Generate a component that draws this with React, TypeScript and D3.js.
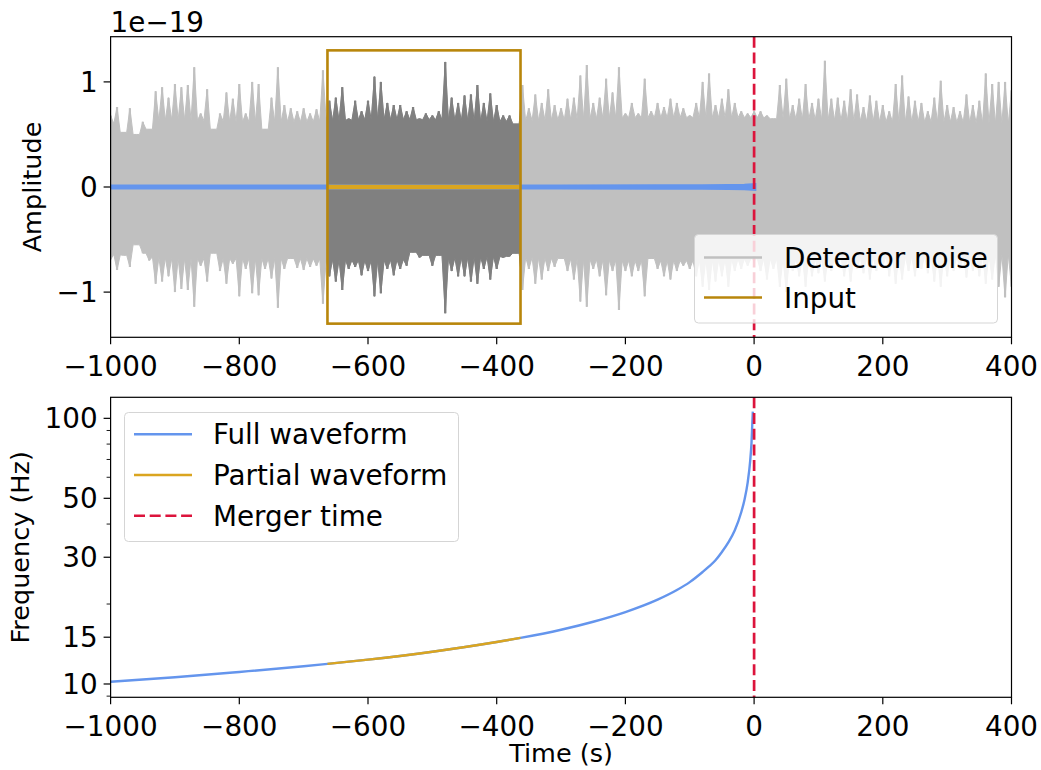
import * as d3 from 'd3';

// noise peaks, one per 10 s from -1000 to 400 (units of 1e-19)
const noiseHi = [
  0.68, 0.76, 0.52, 0.75, 0.50, 0.62, 0.55, 0.91, 0.95, 0.85, 0.98, 0.95, 0.97, 1.14, 0.70, 0.93, 0.55, 0.70, 0.90, 0.84, 0.98, 0.70, 1.00, 0.98, 0.55, 0.85, 1.14, 0.78, 0.75,
  0.72, 0.75, 0.70, 0.74, 1.11, 0.82, 0.85, 0.95, 0.65, 0.82, 0.72, 0.82, 1.05, 1.00, 0.80, 0.78, 0.78, 0.72, 0.76, 0.65, 0.70, 0.68, 0.72, 1.19, 0.85, 0.80, 0.87, 0.88,
  0.97, 0.80, 0.89, 0.78, 0.68, 0.68, 0.60, 0.97, 0.75, 0.88, 0.80, 0.93, 0.78, 0.75, 0.84, 0.85, 1.06, 1.16, 0.80, 0.85, 1.03, 0.90, 1.14, 0.70, 0.80, 0.70, 1.03,
  0.72, 0.80, 0.76, 0.84, 0.80, 0.75, 0.68, 0.80, 1.00, 1.08, 0.78, 0.84, 0.93, 0.80, 0.72, 0.70, 0.72, 0.72, 0.68, 0.65, 0.97, 1.03, 0.78, 0.84, 0.98, 0.80, 0.84, 1.20,
  0.84, 0.85, 0.82, 0.93, 0.88, 0.76, 0.87, 0.82, 0.78, 0.72, 0.98, 1.06, 0.86, 0.82, 0.80, 0.72, 0.85, 1.01, 0.78, 0.76, 0.72, 0.88, 0.78, 0.82, 1.08, 0.98, 1.00, 1.00, 0.92,
];
const noiseLo = [
  -0.69, -0.79, -0.65, -0.76, -0.55, -0.63, -0.70, -0.92, -0.90, -0.85, -1.00, -0.97, -0.98, -1.14, -0.75, -0.90, -0.63, -0.80, -0.92, -0.73, -1.04, -0.78, -1.01, -1.03, -0.78, -0.87, -1.15, -0.78, -0.68,
  -0.77, -0.79, -0.76, -0.75, -1.11, -0.85, -0.90, -0.98, -0.78, -0.76, -0.84, -0.80, -1.04, -1.01, -0.78, -0.84, -0.78, -0.75, -0.62, -0.67, -0.65, -0.75, -0.65, -1.20, -0.80, -0.85, -0.85, -0.90,
  -0.92, -0.78, -0.88, -0.78, -0.67, -0.66, -0.63, -0.98, -0.78, -0.92, -0.88, -0.80, -0.76, -0.68, -0.80, -0.88, -1.09, -1.14, -0.78, -0.85, -1.03, -0.80, -1.17, -0.80, -0.85, -0.80, -1.04,
  -0.68, -0.78, -0.85, -0.88, -0.80, -0.75, -0.78, -0.85, -0.95, -0.98, -0.90, -0.85, -0.95, -0.80, -0.78, -0.75, -0.70, -0.80, -0.88, -0.78, -0.95, -1.00, -0.80, -0.85, -0.95, -0.85, -0.82, -0.90,
  -0.80, -0.75, -0.85, -0.90, -0.78, -0.82, -0.88, -0.80, -0.75, -0.85, -0.92, -0.88, -0.80, -0.85, -0.78, -0.82, -0.90, -0.95, -0.85, -0.80, -0.78, -0.86, -0.80, -0.85, -0.92, -0.88, -0.95, -1.05, -0.95,
];
const noiseTime = d3.range(-1000, 401, 10);

// level of the dense noise band between peaks, one per 100 s
const coreTime = d3.range(-1000, 401, 100);
const coreHi = [0.60, 0.64, 0.62, 0.62, 0.64, 0.64, 0.62, 0.64, 0.66, 0.66, 0.66, 0.64, 0.62, 0.62, 0.60];
const coreLo = [-0.64, -0.68, -0.68, -0.68, -0.70, -0.68, -0.66, -0.68, -0.70, -0.70, -0.68, -0.68, -0.66, -0.66, -0.64];

// waveform half-thickness in the top panel (1e-19)
const waveTime = [-1000, -600, -300, -150, -80, -40, -15, 0];
const waveAmp = [0.002, 0.002, 0.003, 0.004, 0.005, 0.007, 0.01, 0.015];

// chirp frequency track
const chirpTime = [-1000, -900, -800, -700, -663, -600, -500, -400, -363, -300, -250, -200, -150, -120, -100, -80, -70, -60, -50, -40, -30, -20, -15, -10, -6, -4, -2];
const chirpFreq = [10.2, 10.6, 11.1, 11.66, 11.9, 12.35, 13.23, 14.39, 14.91, 16.0, 17.15, 18.65, 20.77, 22.58, 24.18, 26.4, 27.7, 29.24, 31.4, 34.1, 37.9, 44.3, 49.3, 57.3, 69.5, 81.0, 106.0];

const windowStart = -663;
const windowEnd = -363;
const mergerTime = 0;

const xTicks = [-1000, -800, -600, -400, -200, 0, 200, 400];
const ampTicks = [-1, 0, 1];
const freqTicks = [10, 15, 30, 50, 100];
const freqMinor = [9, 20, 40, 60, 70, 80, 90];

const FONT = 'DejaVu Sans, sans-serif';
const FS = 27.8;
const fmt = (v: number) => (v < 0 ? '\u2212' + Math.abs(v) : String(v));

const L = 110.6, R = 1011.5;
const topPanel = { top: 36.7, bottom: 337.3 };
const botPanel = { top: 397.3, bottom: 697.3 };

type NP = { t: number; hi: number; lo: number };

const App = () => {
  const x = d3.scaleLinear().domain([-1000, 400]).range([L, R]);
  const yA = d3.scaleLinear().domain([-1.43, 1.43]).range([topPanel.bottom, topPanel.top]);
  const yF = d3.scaleLog().domain([8.91, 120]).range([botPanel.bottom, botPanel.top]);

  // peaks at each sample, dense band level between them
  const bandHi = d3.scaleLinear().domain(coreTime).range(coreHi);
  const bandLo = d3.scaleLinear().domain(coreTime).range(coreLo);
  const noisePts: NP[] = [];
  noiseTime.forEach((t, i) => {
    noisePts.push({ t, hi: noiseHi[i], lo: noiseLo[i] });
    if (i < noiseTime.length - 1) {
      const tm = t + 5;
      noisePts.push({
        t: tm,
        hi: Math.min(bandHi(tm), noiseHi[i], noiseHi[i + 1]),
        lo: Math.max(bandLo(tm), noiseLo[i], noiseLo[i + 1]),
      });
    }
  });
  const noiseArea = d3.area<NP>().x(d => x(d.t)).y0(d => yA(d.lo)).y1(d => yA(d.hi));
  const spikes = noiseTime.map((t, i) => `M${x(t)},${yA(noiseLo[i])}V${yA(noiseHi[i])}`).join('');

  const wavePts = waveTime.map((t, i) => ({ t, a: waveAmp[i] }));
  const waveArea = d3.area<{ t: number; a: number }>()
    .x(d => x(d.t)).y0(d => yA(-d.a)).y1(d => yA(d.a));

  const chirp = chirpTime.map((t, i) => ({ t, f: chirpFreq[i] }));
  const chirpLine = d3.line<{ t: number; f: number }>()
    .x(d => x(d.t)).y(d => yF(d.f)).curve(d3.curveMonotoneX);
  const partial = chirp.filter(d => d.t >= windowStart && d.t <= windowEnd);

  const noise = (color: string) => (
    <g>
      <path d={noiseArea(noisePts) || ''} fill={color} stroke={color} strokeWidth={1} />
      <path d={spikes} fill="none" stroke={color} strokeWidth={2.2} />
    </g>
  );

  const xAxis = (y0: number) => (
    <g>
      {xTicks.map(t => (
        <g key={t}>
          <line x1={x(t)} x2={x(t)} y1={y0} y2={y0 + 7} stroke="#000" strokeWidth={1.2} />
          <text x={x(t)} y={y0 + 39} textAnchor="middle" fontSize={FS}>{fmt(t)}</text>
        </g>
      ))}
    </g>
  );

  return (
    <div style={{ position: 'absolute', left: 0, top: 0 }}>
      <svg width={1041} height={770} style={{ display: 'block', fontFamily: FONT }}>
        <defs>
          <clipPath id="clipTop"><rect x={L} y={topPanel.top} width={R - L} height={topPanel.bottom - topPanel.top} /></clipPath>
          <clipPath id="clipWin"><rect x={x(windowStart)} y={topPanel.top} width={x(windowEnd) - x(windowStart)} height={topPanel.bottom - topPanel.top} /></clipPath>
          <clipPath id="clipBot"><rect x={L} y={botPanel.top} width={R - L} height={botPanel.bottom - botPanel.top} /></clipPath>
        </defs>
        <rect width={1041} height={770} fill="#fff" />

        {/* ---- top panel ---- */}
        <g clipPath="url(#clipTop)">
          {noise('#c0c0c0')}
          <g clipPath="url(#clipWin)">{noise('#808080')}</g>
          <path d={waveArea(wavePts) || ''} fill="#6495ed" stroke="#6495ed" strokeWidth={4.5} />
          <line x1={x(windowStart)} x2={x(windowEnd)} y1={yA(0)} y2={yA(0)} stroke="#daa520" strokeWidth={4.5} />
          <rect x={x(windowStart)} y={yA(1.3)} width={x(windowEnd) - x(windowStart)} height={yA(-1.3) - yA(1.3)}
            fill="none" stroke="#b8860b" strokeWidth={2.6} />
          <line x1={x(mergerTime)} x2={x(mergerTime)} y1={topPanel.top} y2={topPanel.bottom} stroke="#dc143c" strokeWidth={2.7} strokeDasharray="11,4.7" />
        </g>
        {/* legend top */}
        <g>
          <rect x={694.5} y={234.5} width={303} height={88.5} rx={4} fill="#fff" fillOpacity={0.8} stroke="#d5d5d5" strokeWidth={1} />
          <line x1={704} x2={762} y1={257.5} y2={257.5} stroke="#c0c0c0" strokeWidth={2.5} />
          <text x={784} y={267.6} fontSize={FS}>Detector noise</text>
          <line x1={704} x2={762} y1={297.5} y2={297.5} stroke="#b8860b" strokeWidth={2.5} />
          <text x={784} y={307.6} fontSize={FS}>Input</text>
        </g>
        <rect x={L} y={topPanel.top} width={R - L} height={topPanel.bottom - topPanel.top} fill="none" stroke="#000" strokeWidth={1.2} />
        {ampTicks.map(v => (
          <g key={v}>
            <line x1={L - 7} x2={L} y1={yA(v)} y2={yA(v)} stroke="#000" strokeWidth={1.2} />
            <text x={L - 13} y={yA(v) + 10.1} textAnchor="end" fontSize={FS}>{fmt(v)}</text>
          </g>
        ))}
        {xAxis(topPanel.bottom)}
        <text x={L} y={31.5} fontSize={FS}>1e{'\u2212'}19</text>
        <text transform={`translate(41,${(topPanel.top + topPanel.bottom) / 2}) rotate(-90)`} textAnchor="middle" fontSize={25.5}>Amplitude</text>

        {/* ---- bottom panel ---- */}
        <g clipPath="url(#clipBot)">
          <path d={chirpLine(chirp) || ''} fill="none" stroke="#6495ed" strokeWidth={2.4} />
          <path d={chirpLine(partial) || ''} fill="none" stroke="#daa520" strokeWidth={2.4} />
          <line x1={x(mergerTime)} x2={x(mergerTime)} y1={botPanel.top} y2={botPanel.bottom} stroke="#dc143c" strokeWidth={2.7} strokeDasharray="11,4.7" />
        </g>
        <rect x={L} y={botPanel.top} width={R - L} height={botPanel.bottom - botPanel.top} fill="none" stroke="#000" strokeWidth={1.2} />
        {freqMinor.map(v => (
          <line key={v} x1={L - 4} x2={L} y1={yF(v)} y2={yF(v)} stroke="#000" strokeWidth={0.9} />
        ))}
        {freqTicks.map(v => (
          <g key={v}>
            <line x1={L - 7} x2={L} y1={yF(v)} y2={yF(v)} stroke="#000" strokeWidth={1.2} />
            <text x={L - 13} y={yF(v) + 10.1} textAnchor="end" fontSize={FS}>{v}</text>
          </g>
        ))}
        {xAxis(botPanel.bottom)}
        <text x={(L + R) / 2} y={762} textAnchor="middle" fontSize={25.5}>Time (s)</text>
        <text transform={`translate(29,${(botPanel.top + botPanel.bottom) / 2}) rotate(-90)`} textAnchor="middle" fontSize={25.5}>Frequency (Hz)</text>

        {/* legend bottom */}
        <g>
          <rect x={124.5} y={412.5} width={334} height={129} rx={4} fill="#fff" fillOpacity={0.8} stroke="#d5d5d5" strokeWidth={1} />
          <line x1={134} x2={192} y1={434.3} y2={434.3} stroke="#6495ed" strokeWidth={2.4} />
          <text x={213} y={444.4} fontSize={FS}>Full waveform</text>
          <line x1={134} x2={192} y1={475} y2={475} stroke="#daa520" strokeWidth={2.4} />
          <text x={213} y={485.1} fontSize={FS}>Partial waveform</text>
          <line x1={134} x2={192} y1={515.7} y2={515.7} stroke="#dc143c" strokeWidth={2.4} strokeDasharray="11,4.7" />
          <text x={213} y={525.8} fontSize={FS}>Merger time</text>
        </g>
      </svg>
    </div>
  );
};

export default App;
